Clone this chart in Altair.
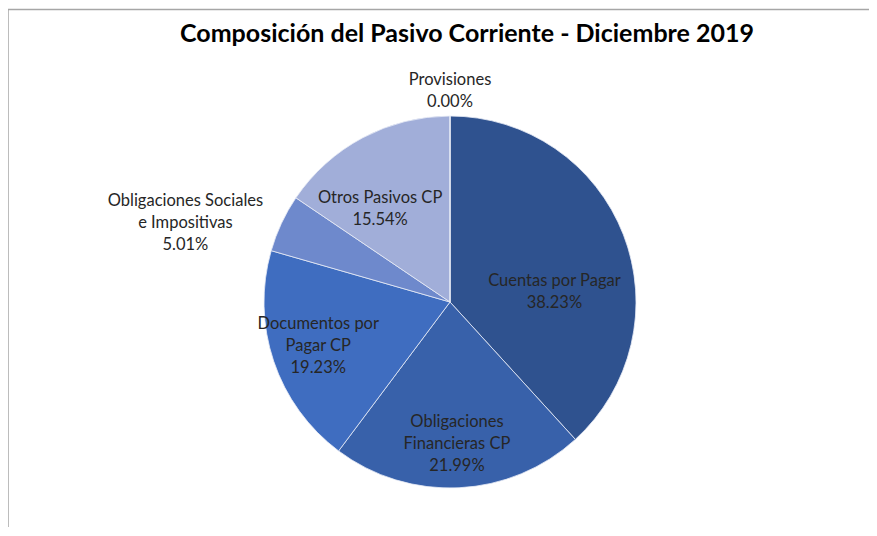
import altair as alt
import pandas as pd

categories = ["Cuentas por Pagar", "Obligaciones Financieras CP", "Documentos por Pagar CP",
              "Obligaciones Sociales e Impositivas", "Otros Pasivos CP", "Provisiones"]
label_lines = [["Cuentas por Pagar"], ["Obligaciones", "Financieras CP"], ["Documentos por", "Pagar CP"],
               ["Obligaciones Sociales", "e Impositivas"], ["Otros Pasivos CP"], ["Provisiones"]]
values = [38.23, 21.99, 19.23, 5.01, 15.54, 0.00]
colors = ["#2F528F", "#3861AA", "#3F6DC0", "#6E89CC", "#A1AED9", "#8FA0D3"]
title_text = "Composición del Pasivo Corriente - Diciembre 2019"

df = pd.DataFrame({
    "cat": categories,
    "value": values,
    "ord": list(range(len(categories))),
    "label": ["\n".join(l + [f"{v:.2f}%"]) for l, v in zip(label_lines, values)],
})

FONT = "Lato"
W, H = 838, 446

base = alt.Chart(df)

frame = alt.Chart(pd.DataFrame({"a": [0]})).mark_rect(
    fill=None, stroke="#A6A6A6", strokeWidth=1.5
).encode(x=alt.value(-23), y=alt.value(-71.5), x2=alt.value(1000), y2=alt.value(800))

pie = base.mark_arc(stroke="#E8ECF6", strokeWidth=0.8, outerRadius=186).encode(
    theta=alt.Theta("value:Q", stack=True),
    order=alt.Order("ord:Q"),
    color=alt.Color("cat:N", scale=alt.Scale(domain=categories, range=colors), legend=None),
    y=alt.value(221),
)

# mid-angle for labels computed from the stacked data
lab_base = base.transform_window(
    cum="sum(value)", sort=[alt.SortField("ord")]
).transform_calculate(mid="datum.cum - datum.value / 2")

def label_layer(cat, radius, dy=0, dx=0):
    return lab_base.transform_filter(alt.datum.cat == cat).mark_text(
        font=FONT, fontSize=16.5, lineBreak="\n", lineHeight=22, color="#262626",
        align="center", baseline="middle", dy=dy, dx=dx
    ).encode(
        theta=alt.Theta("mid:Q", scale=alt.Scale(domain=[0, 100], range=[0, 6.283185307]), stack=False),
        radius=alt.value(radius),
        text="label:N",
        y=alt.value(221),
    )

labels = [
    label_layer("Cuentas por Pagar", 112, 19),
    label_layer("Obligaciones Financieras CP", 143, -23),
    label_layer("Documentos por Pagar CP", 139, -22),
    label_layer("Obligaciones Sociales e Impositivas", 292, 23, 0),
    label_layer("Otros Pasivos CP", 149, 28),
    label_layer("Provisiones", 212, -10),
]

title = alt.Chart(pd.DataFrame({"t": [title_text]})).mark_text(
    font=FONT, fontSize=25, fontWeight="bold", color="#000000", align="center", baseline="middle"
).encode(text="t:N", x=alt.value(436), y=alt.value(-47))

chart = alt.layer(frame, pie, *labels, title).properties(
    width=W, height=H,
    padding={"left": 23, "top": 73, "right": 0, "bottom": 0},
    autosize=alt.AutoSizeParams(type="none"),
).configure_view(stroke=None)

chart.save("out.html", embed_options={"renderer": "svg", "actions": False})
